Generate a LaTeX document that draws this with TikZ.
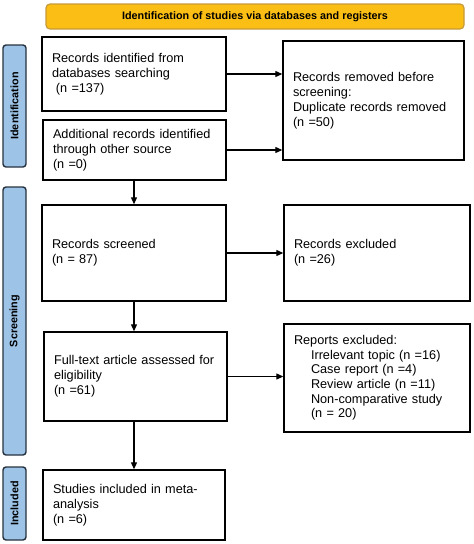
\documentclass[tikz,border=0pt]{standalone}
\usepackage{fontspec}
\setmainfont{Liberation Sans}
\usetikzlibrary{arrows.meta,positioning}
\definecolor{bannerfill}{HTML}{FBBE14}
\definecolor{bannerdraw}{HTML}{C79A3A}
\definecolor{sidefill}{HTML}{9DC3E6}
\definecolor{sidedraw}{HTML}{27323F}
\begin{document}
\begin{tikzpicture}[x=1pt,y=-1pt,
  box/.style={draw=black,line width=1.4pt,rectangle,inner xsep=10pt,inner ysep=0pt,
    align=left,font=\fontsize{12.7}{15}\selectfont,text width=#1},
  box/.default=160pt,
  side/.style={draw=sidedraw,fill=sidefill,line width=1.4pt,rounded corners=3pt,
    minimum height=23pt,inner sep=0pt,font=\fontsize{10.8}{13}\selectfont\bfseries},
  arr/.style={line width=1.2pt,-{Triangle[length=7pt,width=6pt]}}]
\useasboundingbox (0,0) rectangle (474,544);
% banner
\node[draw=bannerdraw,fill=bannerfill,line width=1.2pt,rounded corners=4pt,
  minimum width=418pt,minimum height=25pt,font=\fontsize{10.8}{13}\selectfont\bfseries]
  (banner) at (255,16.5) {Identification of studies via databases and registers};
% side labels
\node[side,minimum width=122pt,rotate=90] (sid) at (14.5,106) {Identification};
\node[side,minimum width=268pt,rotate=90] (sscr) at (14.5,321) {Screening};
\node[side,minimum width=73pt,rotate=90] (sinc) at (14.5,503.5) {Included};
% boxes
\node[box=164pt,minimum width=184pt,minimum height=74pt] (b1) at (134,74)
  {Records identified from\\databases searching\\\hspace*{4pt}(n =137)};
\node[box=163pt,minimum width=183pt,minimum height=60pt] (b2) at (134.5,150)
  {Additional records identified\\through other source\\(n =0)};
\node[box=161pt,minimum width=181pt,minimum height=119pt] (r1) at (373.5,100.5)
  {Records removed before\\screening:\\Duplicate records removed\\(n =50)};
\node[box=164pt,minimum width=184pt,minimum height=96pt] (scr) at (134,253)
  {Records screened\\(n = 87)};
\node[box=166pt,minimum width=186pt,minimum height=96pt] (exc) at (377,253)
  {Records excluded\\(n =26)};
\node[box=163pt,minimum width=181pt,minimum height=89pt] (full) at (135.5,376.5)
  {Full-text article assessed for\\eligibility\\(n =61)};
\node[box=166pt,minimum width=186pt,minimum height=108pt,
  font=\fontsize{12.7}{14.6}\selectfont] (rep) at (377,378)
  {Reports excluded:\\\hspace*{17pt}Irrelevant topic (n =16)\\\hspace*{17pt}Case report (n =4)\\\hspace*{17pt}Review article (n =11)\\\hspace*{17pt}Non-comparative study\\\hspace*{17pt}(n = 20)};
\node[box=162pt,minimum width=182pt,minimum height=70pt] (inc) at (134,505)
  {Studies included in meta-\\analysis\\(n =6)};
% arrows
\draw[arr] (b1.east) -- (b1.east -| r1.west);
\draw[arr] (b2.east) -- (b2.east -| r1.west);
\draw[arr] (b2.south -| scr.north) -- (scr.north);
\draw[arr] (scr.east) -- (exc.west);
\draw[arr] (scr.south) -- (scr.south |- full.north);
\draw[arr] (full.east) -- (full.east -| rep.west);
\draw[arr] (full.south -| inc.north) -- (inc.north);
\end{tikzpicture}
\end{document}
